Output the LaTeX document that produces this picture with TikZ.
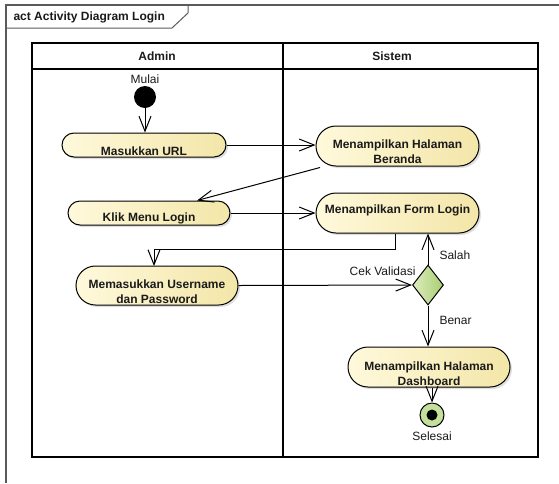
\documentclass[tikz,border=0pt]{standalone}
\usepackage{fontspec}
\setmainfont{Liberation Sans}
\usetikzlibrary{shapes.misc,shapes.geometric,arrows.meta,shadows,calc}
\definecolor{actL}{HTML}{FFF9DC}
\definecolor{actR}{HTML}{F3E6A8}
\definecolor{diaL}{HTML}{DDEDBE}
\definecolor{diaR}{HTML}{A9CD72}
\definecolor{finC}{HTML}{C5DF9C}
\definecolor{txt}{HTML}{1A1A1A}
\definecolor{frameC}{HTML}{5A5A5A}
\tikzset{
  act/.style={rounded rectangle, draw=black, line width=1pt, left color=actL, right color=actR,
    inner sep=0pt, drop shadow={shadow xshift=2pt, shadow yshift=-2pt, opacity=0.25}},
  lbl/.style={font=\fontsize{12}{15}\selectfont\bfseries, align=center, text=txt},
  note/.style={font=\fontsize{12}{15}\selectfont, text=txt},
  flow/.style={draw=black, line width=1pt, -{Straight Barb[length=15pt,width=12pt]}},
  lane/.style={draw=black, line width=1.2pt}
}
\begin{document}
\begin{tikzpicture}[x=1pt,y=-1pt]
\useasboundingbox (0,0) rectangle (559,483);
% outer frame
\draw[frameC, line width=1.3pt] (6,483) -- (6,5) -- (559,5);
\draw[frameC, line width=1pt] (6,28) -- (172,28) -- (188,13) -- (188,5);
\node[lbl, anchor=west] (title) at (10,17.5) {act Activity Diagram Login};
% swimlanes
\draw[lane] (32,43) rectangle (538,457);
\draw[lane] (32,69) -- (538,69);
\draw[lane] (283,43) -- (283,457);
\node[lbl] (hAdmin) at (157,56) {Admin};
\node[lbl] (hSistem) at (392,56) {Sistem};
% start
\node[circle, fill=black, minimum size=22pt, inner sep=0pt] (start) at (145,97) {};
\node[note] (mulai) at (145,79) {Mulai};
% activities
\node[act, minimum width=164pt, minimum height=24pt, label={[lbl,yshift=-6pt]center:Masukkan URL}] (url) at (144,145) {};
\node[act, minimum width=162pt, minimum height=24pt, label={[lbl,yshift=-5pt]center:Klik Menu Login}] (klik) at (149,213) {};
\node[act, minimum width=162pt, minimum height=39pt, label={[lbl,yshift=-6pt]center:Memasukkan Username\\dan Password}] (user) at (157,285.5) {};
\node[act, minimum width=163pt, minimum height=40pt, label={[lbl,yshift=-5.5pt]center:Menampilkan Halaman\\Beranda}] (beranda) at (397.5,146) {};
\node[act, minimum width=163pt, minimum height=40pt, label={[lbl,yshift=3pt]center:Menampilkan Form Login}] (form) at (397.5,213) {};
\node[act, minimum width=162pt, minimum height=40pt, label={[lbl,yshift=-6.5pt]center:Menampilkan Halaman\\Dashboard}] (dash) at (429,367) {};
% decision
\node[diamond, draw=black, line width=1pt, left color=diaL, right color=diaR, minimum width=31pt, minimum height=40pt, inner sep=0pt] (dia) at (428,285) {};
% final
\node[circle, draw=black, line width=1pt, fill=finC, minimum size=24pt, inner sep=0pt] (fin) at (432,415) {};
\node[circle, fill=black, minimum size=11pt, inner sep=0pt] (finDot) at (fin.center) {};
\node[note] (selesai) at (432,436) {Selesai};
% labels
\node[note, anchor=east] (cek) at (419,271) {Cek Validasi};
\node[note, anchor=west] (salah) at (436,255) {Salah};
\node[note, anchor=west] (benar) at (436,320) {Benar};
% flows
\draw[flow] (start) -- (start |- url.north);
\draw[flow] (url.east) -- (url.east -| beranda.west);
\draw[flow] ($(beranda.south)+(-77.5,1)$) -- ([xshift=48pt]klik.north);
\draw[flow] (klik.east) -- (klik.east -| form.west);
\draw[flow] ([xshift=-2.5pt]form.south) |- (154,249) -- (154,266);
\draw[flow] (user.east) -- (dia.west);
\draw[flow] (dia.north) -- (dia.north |- form.south);
\draw[flow] (dia.south) -- (dia.south |- dash.north);
\draw[flow] (dash.south -| fin) -- (fin.north);
\end{tikzpicture}
\end{document}
